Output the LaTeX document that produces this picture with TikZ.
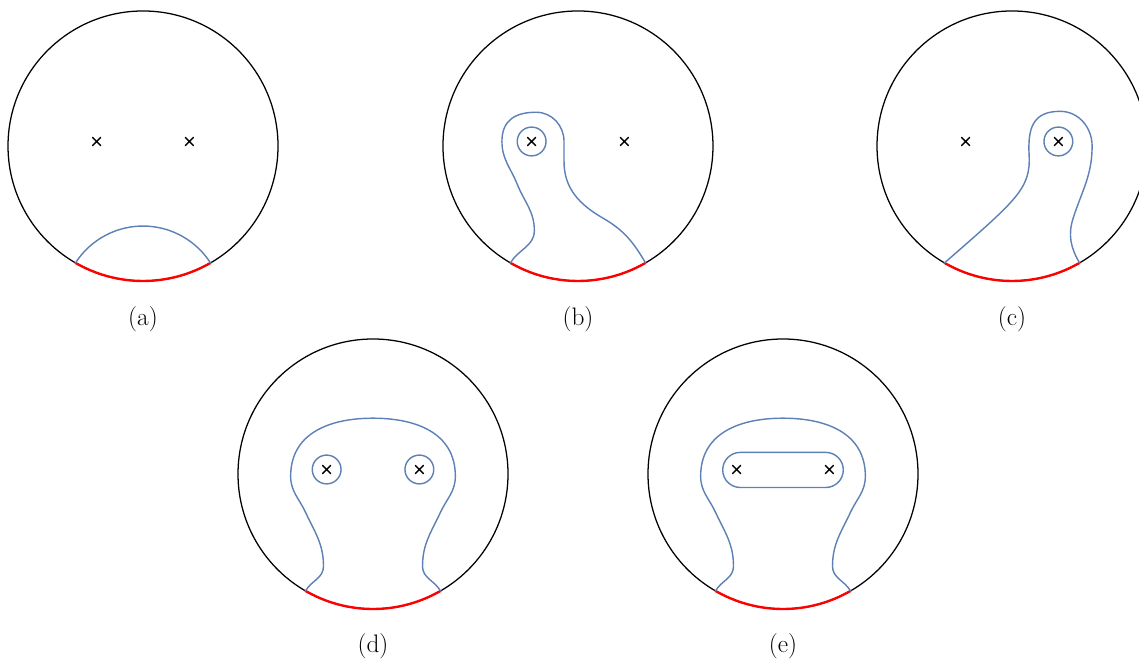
\documentclass[tikz,border=0pt]{standalone}
\usepackage{tikz}
\definecolor{curveblue}{rgb}{0.368,0.507,0.710}
\newcommand{\diskbase}{%
\draw[rim] (0,0) circle (3);
\coordinate (L) at (240:3);
\coordinate (R) at (300:3);
\draw[seg] (L) arc (240:300:3);
}
\newcommand{\cross}[1]{%
\draw[xmark] (#1) +(-0.09,-0.09) -- +(0.09,0.09) (#1) +(-0.09,0.09) -- +(0.09,-0.09);
}

\begin{document}
\begin{tikzpicture}[line cap=round,
  rim/.style={line width=0.8pt},
  seg/.style={red,line width=1.5pt},
  loop/.style={curveblue,line width=0.9pt},
  xmark/.style={line width=0.9pt},
  caption/.style={font=\fontsize{16}{19}\selectfont}]
\useasboundingbox (0,0) rectangle (25.311,14.644);

% (a)
\begin{scope}[shift={(3.178,11.4)}]
\diskbase
\draw[loop] (L) arc[start angle=147.3,end angle=32.7,radius=1.782];
\cross{-1.03,0.1}
\cross{1.03,0.1}
\node[caption] (capa) at (0,-3.84) {(a)};
\end{scope}

% (b)
\begin{scope}[shift={(12.844,11.4)}]
\diskbase
\draw[loop] (L) to[out=60,in=-90] (-0.97,-1.88) to[out=90,in=-68] (-1.35,-0.85)
  to[out=112,in=-90] (-1.69,0.1) to[out=90,in=180,looseness=1.2] (-0.93,0.75)
  to[out=0,in=90] (-0.31,0.1) -- (-0.31,-0.35) to[out=-90,in=150] (0.55,-1.6)
  to[out=-30,in=120] (R);
\draw[loop] (-1.03,0.1) circle (0.32);
\cross{-1.03,0.1}
\cross{1.03,0.1}
\node[caption] (capb) at (0,-3.84) {(b)};
\end{scope}

% (c)
\begin{scope}[shift={(22.489,11.4)}]
\diskbase
\draw[loop] (L) .. controls (0.1,-1.2) and (0.42,-0.95) .. (0.38,-0.2)
  to[out=93,in=180,looseness=1.3] (1.07,0.77)
  to[out=0,in=90] (1.78,0.0) to[out=-90,in=72] (1.36,-1.6)
  to[out=-108,in=120] (R);
\draw[loop] (1.03,0.1) circle (0.32);
\cross{-1.03,0.1}
\cross{1.03,0.1}
\node[caption] (capc) at (0,-3.84) {(c)};
\end{scope}

% (d)
\begin{scope}[shift={(8.289,4.111)}]
\diskbase
\draw[loop] (L) to[out=60,in=-90] (-1.1,-2.05) to[out=90,in=-65] (-1.5,-0.85)
  to[out=115,in=-90] (-1.83,-0.05) to[out=90,in=180,looseness=1.1] (0,1.24)
  to[out=0,in=90,looseness=1.1] (1.83,-0.05) to[out=-90,in=65] (1.5,-0.85)
  to[out=-115,in=90] (1.1,-2.05) to[out=-90,in=120] (R);
\draw[loop] (-1.03,0.1) circle (0.32);
\draw[loop] (1.03,0.1) circle (0.32);
\cross{-1.03,0.1}
\cross{1.03,0.1}
\node[caption] (capd) at (0,-3.83) {(d)};
\end{scope}

% (e)
\begin{scope}[shift={(17.4,4.111)}]
\diskbase
\draw[loop] (L) to[out=60,in=-90] (-1.1,-2.05) to[out=90,in=-65] (-1.5,-0.85)
  to[out=115,in=-90] (-1.83,-0.05) to[out=90,in=180,looseness=1.1] (0,1.24)
  to[out=0,in=90,looseness=1.1] (1.83,-0.05) to[out=-90,in=65] (1.5,-0.85)
  to[out=-115,in=90] (1.1,-2.05) to[out=-90,in=120] (R);
\draw[loop,rounded corners=0.39cm] (-1.34,-0.3) rectangle (1.34,0.48);
\cross{-1.03,0.1}
\cross{1.03,0.1}
\node[caption] (cape) at (0,-3.83) {(e)};
\end{scope}
\end{tikzpicture}
\end{document}
